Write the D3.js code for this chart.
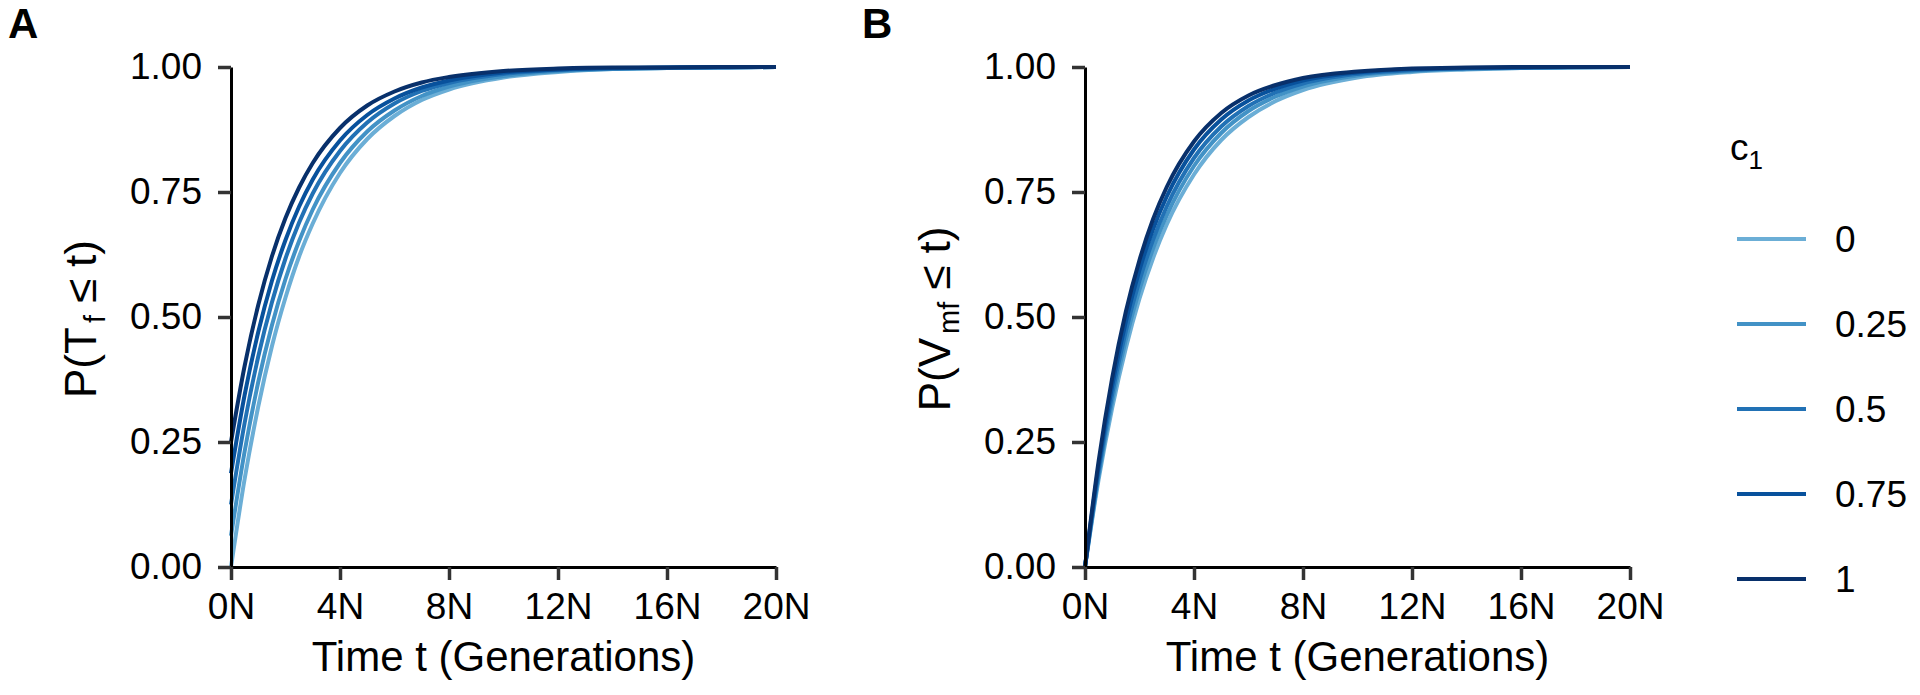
<!DOCTYPE html>
<html>
<head>
<meta charset="utf-8">
<script src="https://cdn.jsdelivr.net/npm/d3@7"></script>
<style>
  html, body { margin: 0; padding: 0; background: #ffffff; }
  svg { display: block; }
  text { font-family: "Liberation Sans", Arial, Helvetica, sans-serif; fill: #000; }
</style>
</head>
<body>
<svg id="chart" width="1920" height="695"></svg>
<script>
// ---------------- data ----------------
const times = [0, 0.5, 1, 1.5, 2, 2.5, 3, 4, 5, 6, 7, 8, 10, 12, 14, 16, 18, 20]; // in units of N
const c1Levels = ["0", "0.25", "0.5", "0.75", "1"];
const seriesColors = ["#6baed6", "#4292c6", "#2171b5", "#08519c", "#08306b"];
const xTickValues = [0, 4, 8, 12, 16, 20];
const xTickLabels = ["0N", "4N", "8N", "12N", "16N", "20N"];
const yTickValues = [0, 0.25, 0.5, 0.75, 1];
const yTickLabels = ["0.00", "0.25", "0.50", "0.75", "1.00"];

// Panel A: P(T_f <= t)
const panelA_c0   = [0, 0.176, 0.321, 0.441, 0.539, 0.621, 0.687, 0.788, 0.856, 0.902, 0.934, 0.955, 0.979, 0.990, 0.996, 0.998, 0.999, 1.000];
const panelA_c025 = [0.0625, 0.231, 0.370, 0.483, 0.576, 0.652, 0.715, 0.808, 0.871, 0.913, 0.942, 0.961, 0.982, 0.992, 0.996, 0.998, 0.999, 1.000];
const panelA_c05  = [0.125, 0.288, 0.421, 0.529, 0.617, 0.689, 0.747, 0.832, 0.889, 0.927, 0.952, 0.968, 0.986, 0.994, 0.997, 0.999, 0.999, 1.000];
const panelA_c075 = [0.1875, 0.344, 0.470, 0.572, 0.654, 0.721, 0.775, 0.853, 0.904, 0.937, 0.959, 0.973, 0.989, 0.995, 0.998, 0.999, 1.000, 1.000];
const panelA_c1   = [0.25, 0.402, 0.524, 0.621, 0.698, 0.759, 0.808, 0.878, 0.923, 0.951, 0.969, 0.980, 0.992, 0.997, 0.999, 0.999, 1.000, 1.000];

// Panel B: P(V_mf <= t)
const panelB_c0   = [0, 0.175, 0.319, 0.438, 0.537, 0.618, 0.685, 0.785, 0.854, 0.900, 0.932, 0.954, 0.979, 0.990, 0.995, 0.998, 0.999, 1.000];
const panelB_c025 = [0, 0.183, 0.333, 0.455, 0.555, 0.637, 0.703, 0.802, 0.868, 0.912, 0.941, 0.961, 0.983, 0.992, 0.997, 0.998, 0.999, 1.000];
const panelB_c05  = [0, 0.192, 0.347, 0.472, 0.573, 0.655, 0.721, 0.818, 0.881, 0.922, 0.949, 0.967, 0.986, 0.994, 0.997, 0.999, 1.000, 1.000];
const panelB_c075 = [0, 0.202, 0.363, 0.491, 0.594, 0.676, 0.741, 0.835, 0.895, 0.933, 0.957, 0.973, 0.989, 0.996, 0.998, 0.999, 1.000, 1.000];
const panelB_c1   = [0, 0.212, 0.379, 0.511, 0.614, 0.696, 0.760, 0.851, 0.908, 0.943, 0.964, 0.978, 0.991, 0.997, 0.999, 1.000, 1.000, 1.000];

const panels = [
  { label: "A", left: 231, series: [panelA_c0, panelA_c025, panelA_c05, panelA_c075, panelA_c1],
    yTitle: ["P(T", "f", "\u2264", "t)"] },
  { label: "B", left: 1085, series: [panelB_c0, panelB_c025, panelB_c05, panelB_c075, panelB_c1],
    yTitle: ["P(V", "mf", "\u2264", "t)"] }
];

// ---------------- layout ----------------
const svg = d3.select("#chart");
const plotW = 545, plotTop = 67, plotBottom = 567;
const tickFont = 37, titleFont = 42, yTitleFont = 44;

panels.forEach(p => {
  const x = d3.scaleLinear().domain([0, 20]).range([p.left, p.left + plotW]);
  const y = d3.scaleLinear().domain([0, 1]).range([plotBottom, plotTop]);

  // curves
  const line = d3.line()
    .x((d, i) => x(times[i]))
    .y(d => y(d))
    .curve(d3.curveMonotoneX);
  svg.append("g").selectAll("path")
    .data(p.series)
    .join("path")
    .attr("d", d => line(d))
    .attr("fill", "none")
    .attr("stroke", (d, i) => seriesColors[i])
    .attr("stroke-width", 4)
    .attr("stroke-linejoin", "round");

  // axes
  const yAxis = d3.axisLeft(y).tickValues(yTickValues)
    .tickFormat((d, i) => yTickLabels[i]).tickSize(13).tickSizeOuter(0).tickPadding(16);
  const xAxis = d3.axisBottom(x).tickValues(xTickValues)
    .tickFormat((d, i) => xTickLabels[i]).tickSize(13).tickSizeOuter(0).tickPadding(13);

  const gy = svg.append("g").attr("transform", `translate(${p.left},0)`).call(yAxis);
  const gx = svg.append("g").attr("transform", `translate(0,${plotBottom})`).call(xAxis);
  [gx, gy].forEach(g => {
    g.select(".domain").attr("stroke", "#000").attr("stroke-width", 3);
    g.selectAll(".tick line").attr("stroke", "#333").attr("stroke-width", 3.5);
    g.selectAll(".tick text").attr("font-size", tickFont)
      .attr("font-family", '"Liberation Sans", Arial, sans-serif').attr("fill", "#000");
  });

  // x title
  svg.append("text")
    .attr("x", p.left + plotW / 2).attr("y", 671)
    .attr("text-anchor", "middle").attr("font-size", titleFont)
    .text("Time t (Generations)");

  // y title (plotmath-like: P(T[f] <= t))
  const yt = svg.append("text")
    .attr("transform", `translate(${p.left - 135},${(plotTop + plotBottom) / 2 + 2}) rotate(-90)`)
    .attr("text-anchor", "middle").attr("font-size", yTitleFont);
  yt.append("tspan").text(p.yTitle[0]);
  yt.append("tspan").text(p.yTitle[1]).attr("font-size", 29).attr("dx", 4).attr("dy", 9);
  yt.append("tspan").text(p.yTitle[2]).attr("dx", 12).attr("dy", -9);
  yt.append("tspan").text(p.yTitle[3]).attr("dx", 12);

  // panel label
  svg.append("text")
    .attr("x", p.left - 223).attr("y", 38)
    .attr("font-size", 42).attr("font-weight", "bold")
    .text(p.label);
});

// ---------------- legend ----------------
const lg = svg.append("g");
const legTitle = lg.append("text").attr("x", 1730).attr("y", 160).attr("font-size", 37);
legTitle.append("tspan").text("c");
legTitle.append("tspan").text("1").attr("font-size", 26).attr("dy", 9);

const legY = d3.scalePoint().domain(c1Levels).range([239, 579]);
const items = lg.selectAll("g.item").data(c1Levels).join("g").attr("class", "item")
  .attr("transform", d => `translate(0,${legY(d)})`);
items.append("line").attr("x1", 1737).attr("x2", 1806).attr("y1", 0).attr("y2", 0)
  .attr("stroke", (d, i) => seriesColors[i]).attr("stroke-width", 4);
items.append("text").attr("x", 1835).attr("y", 0).attr("dy", "0.36em")
  .attr("font-size", 37).text(d => d);
</script>
</body>
</html>
